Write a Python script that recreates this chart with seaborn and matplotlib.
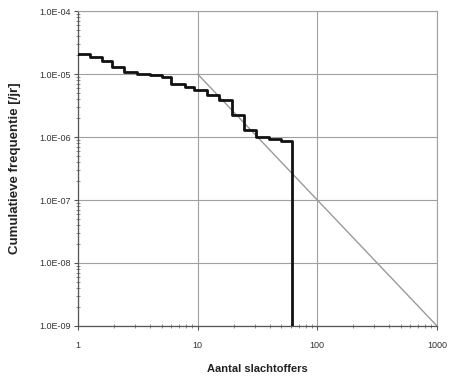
import matplotlib
matplotlib.use("Agg")
import matplotlib.pyplot as plt
import matplotlib.ticker as mticker
import numpy as np
import pandas as pd
import seaborn as sns

# Cumulative frequency of events with at least N fatalities (step curve)
slachtoffers = [1, 1.26, 1.58, 1.92, 2.42, 3.1, 4.0, 5.0, 6.0, 7.8, 9.4,
                12.0, 15.2, 19.4, 24.2, 30.8, 39.8, 50.0, 62.0]
frequentie = [2.1e-5, 1.85e-5, 1.62e-5, 1.28e-5, 1.08e-5, 1.0e-5, 9.5e-6,
              9.0e-6, 7.0e-6, 6.3e-6, 5.6e-6, 4.6e-6, 3.9e-6, 2.2e-6,
              1.29e-6, 1.01e-6, 0.93e-6, 0.87e-6, 1e-9]

# Norm line (orientation value) from 10 to 1000 fatalities
norm_n = [10, 1000]
norm_f = [1e-5, 1e-9]

y_ticks = [1e-9, 1e-8, 1e-7, 1e-6, 1e-5, 1e-4]
y_labels = ["1.0E-09", "1.0E-08", "1.0E-07", "1.0E-06", "1.0E-05", "1.0E-04"]
x_ticks = [1, 10, 100, 1000]
x_labels = ["1", "10", "100", "1000"]

sns.set_style("white")
plt.rcParams["font.family"] = ["Liberation Sans", "DejaVu Sans"]

fig = plt.figure(figsize=(4.49, 3.83), dpi=100)
ax = fig.add_axes([0.1737, 0.149, 0.7995, 0.822])

curve = pd.DataFrame({"N": slachtoffers, "F": frequentie})
norm = pd.DataFrame({"N": norm_n, "F": norm_f})

sns.lineplot(data=norm, x="N", y="F", ax=ax, color="#9a9a9a", lw=1.0,
             zorder=2)
sns.lineplot(data=curve, x="N", y="F", ax=ax, color="#111111", lw=2.0,
             drawstyle="steps-post", sort=False, zorder=3)

ax.set_xscale("log")
ax.set_yscale("log")
ax.set_xlim(1, 1000)
ax.set_ylim(1e-9, 1e-4)

ax.set_xticks(x_ticks)
ax.set_xticklabels(x_labels)
ax.set_yticks(y_ticks)
ax.set_yticklabels(y_labels)
ax.xaxis.set_minor_locator(mticker.LogLocator(base=10, subs=np.arange(2, 10)))
ax.yaxis.set_minor_locator(mticker.LogLocator(base=10, subs=np.arange(2, 10)))
ax.xaxis.set_minor_formatter(mticker.NullFormatter())
ax.yaxis.set_minor_formatter(mticker.NullFormatter())

ax.grid(True, which="major", color="#a0a0a0", lw=0.8)
ax.tick_params(which="major", direction="out", length=3, width=0.8,
               color="#555555", labelsize=6.5, labelcolor="#333333", pad=2)
ax.tick_params(axis="x", which="major", pad=8)
ax.tick_params(which="minor", direction="inout", length=2.5, width=0.6,
               color="#777777")
ax.tick_params(axis="x", which="both", bottom=True)
ax.tick_params(axis="y", which="both", left=True)

for side in ["top", "right"]:
    ax.spines[side].set_color("#a0a0a0")
    ax.spines[side].set_linewidth(0.8)
for side in ["left", "bottom"]:
    ax.spines[side].set_color("#555555")
    ax.spines[side].set_linewidth(0.9)

ax.set_xlabel("Aantal slachtoffers", fontsize=8, fontweight="bold",
              color="#222222", labelpad=10)
ax.set_ylabel("Cumulatieve frequentie [/jr]", fontsize=9.5,
              fontweight="bold", color="#222222", labelpad=13)

fig.savefig("out.png", dpi=100)
